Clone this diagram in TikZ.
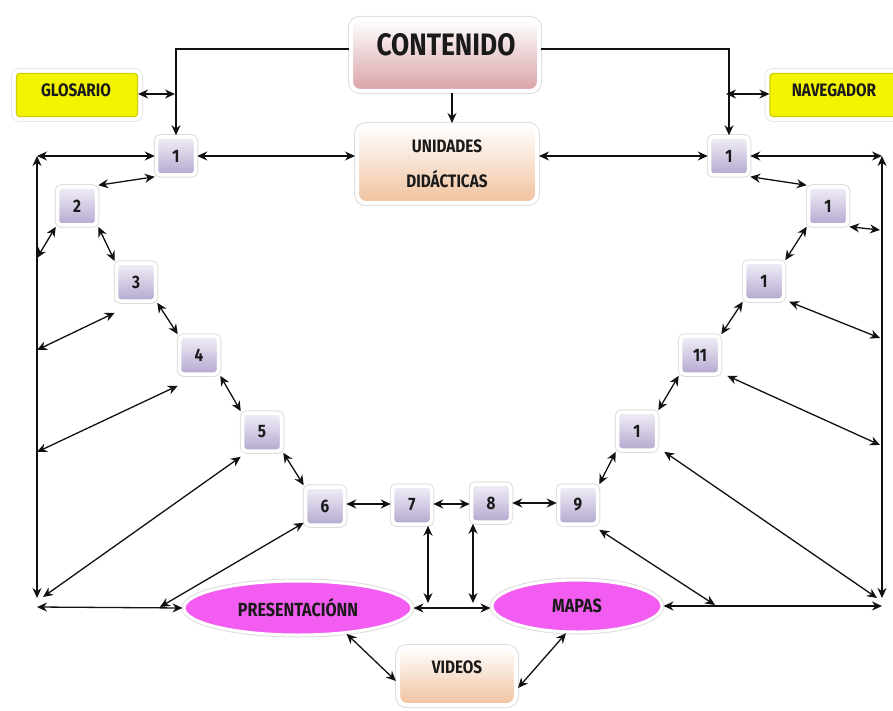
\documentclass[tikz,border=0pt]{standalone}
\usepackage{fontspec}
\newfontfamily\cf[FakeStretch=0.85]{Fira Sans}
\usetikzlibrary{arrows.meta,shadows,shapes.geometric}
\definecolor{txt}{HTML}{1A1A1A}
\definecolor{lavtop}{HTML}{F2EFF7}
\definecolor{lavbot}{HTML}{B4A8D0}
\definecolor{pinkbot}{HTML}{D8A2A6}
\definecolor{peachbot}{HTML}{F0C29E}
\definecolor{yel}{HTML}{F4F400}
\definecolor{yeldark}{HTML}{CFCF00}
\definecolor{mag}{HTML}{F25CF0}
\definecolor{line}{HTML}{111111}
\definecolor{rim}{HTML}{DDDDDD}
\definecolor{rimlight}{HTML}{E8E8E8}
\begin{document}
\begin{tikzpicture}[x=1pt,y=-1pt,
  glow/.style={preaction={draw=rim,line width=#1}},
  sq/.style={rectangle,rounded corners=4pt,minimum width=39pt,minimum height=38pt,inner sep=0pt,
    draw=white,line width=3.5pt,top color=lavtop,bottom color=lavbot,glow=5.5pt,
    font=\cf\bfseries\fontsize{18}{18}\selectfont,text=txt},
  bigbox/.style={rectangle,rounded corners=9pt,inner sep=0pt,draw=white,line width=4pt,glow=6pt,text=txt},
  yelbox/.style={rectangle,rounded corners=3pt,inner sep=0pt,fill=yel,draw=yeldark,line width=1.2pt,
    preaction={draw=rimlight,line width=11pt},preaction={draw=white,line width=9pt},
    text=txt,font=\cf\bfseries\fontsize{18}{18}\selectfont},
  oval/.style={ellipse,inner sep=0pt,fill=mag,draw=white,line width=3pt,glow=5pt,text=txt,
    font=\cf\bfseries\fontsize{19}{19}\selectfont},
  ar/.style={{Stealth[length=10pt,width=9pt]}-{Stealth[length=10pt,width=9pt]},line width=1.3pt,draw=line},
  ra/.style={-{Stealth[length=10pt,width=9pt]},line width=1.3pt,draw=line}]
\useasboundingbox (0,0) rectangle (893,711);

% main boxes
\node[bigbox,minimum width=188pt,minimum height=72pt,top color=white,bottom color=pinkbot] (CON) at (445,55) {};
\node[text=txt,font=\cf\bfseries\fontsize{31}{31}\selectfont] (tCON) at (446,45) {CONTENIDO};
\node[bigbox,minimum width=180pt,minimum height=78pt,top color=white,bottom color=peachbot,
  align=center,font=\cf\bfseries\fontsize{18}{35}\selectfont] (UNI) at (447,164) {UNIDADES\\DIDÁCTICAS};
\node[bigbox,minimum width=118pt,minimum height=58pt,top color=white,bottom color=peachbot] (VID) at (457,676) {};
\node[text=txt,font=\cf\bfseries\fontsize{18}{18}\selectfont] (tVID) at (457,667) {VIDEOS};

% yellow boxes
\node[yelbox,minimum width=121pt,minimum height=43pt] (GLO) at (77,95) {};
\node[text=txt,font=\cf\bfseries\fontsize{18}{18}\selectfont] (tGLO) at (76,90) {GLOSARIO};
\node[yelbox,minimum width=126pt,minimum height=43pt] (NAV) at (833,95) {};
\node[text=txt,font=\cf\bfseries\fontsize{18}{18}\selectfont] (tNAV) at (834,90) {NAVEGADOR};

% ellipses
\node[oval,minimum width=228pt,minimum height=54pt] (PRE) at (298,608) {PRESENTACIÓNN};
\node[oval,minimum width=170pt,minimum height=52pt] (MAP) at (577,606) {MAPAS};

% squares
\node[sq] (L1) at (176,156) {1};
\node[sq] (L2) at (77,206) {2};
\node[sq] (L3) at (136,282) {3};
\node[sq] (L4) at (199,355) {4};
\node[sq] (L5) at (262,432) {5};
\node[sq] (N6) at (325,506) {6};
\node[sq] (N7) at (412,505) {7};
\node[sq] (N8) at (491,503) {8};
\node[sq] (N9) at (578,505) {9};
\node[sq] (R1a) at (637,431) {1};
\node[sq] (R11) at (700,355) {11};
\node[sq] (R1b) at (764,281) {1};
\node[sq] (R1c) at (828,206) {1};
\node[sq] (R1t) at (729,156) {1};

% bus coordinates
\coordinate (LT) at (37,156);
\coordinate (LB) at (37,598);
\coordinate (LBh) at (37,607);
\coordinate (RT) at (882,156);
\coordinate (RB) at (882,598);
\coordinate (RBh) at (882,606);
\coordinate (b2) at (37,258);
\coordinate (b3) at (37,350);
\coordinate (b4) at (37,452);
\coordinate (b5) at (43,597);
\coordinate (b6) at (160,607);
\coordinate (c7) at (428,603);
\coordinate (c8) at (473,603);
\coordinate (b9) at (715,605);
\coordinate (r1) at (880,230);
\coordinate (r2) at (880,338);
\coordinate (r3) at (880,445);
\coordinate (r4) at (877,598);
\coordinate (gj) at (175,94);
\coordinate (nj) at (726,94);

% top connections
\draw[ra] ([yshift=6pt]CON.west) -| (L1.north);
\draw[ra] ([yshift=6pt]CON.east) -| (R1t.north);
\draw[ra] ([xshift=5pt]UNI.north |- CON.south) -- ([xshift=5pt]UNI.north);
\draw[ar] (GLO.east |- gj) -- (gj);
\draw[ar] (NAV.west |- nj) -- (nj);
\draw[ar] (L1.east) -- (L1.east -| UNI.west);
\draw[ar] (R1t.west -| UNI.east) -- (R1t.west);

% buses
\draw[ar] (L1.west) -- (LT);
\draw[ar] (LT) -- (LB);
\draw[ar] (LBh) -- (PRE.west);
\draw[ar] (R1t.east) -- (RT);
\draw[ar] (RT) -- (RB);
\draw[ar] (MAP.east) -- (RBh);
\draw[ar] (PRE.east) -- (PRE.east -| MAP.west);

% left chain
\draw[ar] (L1.south west) -- (L2.north east);
\draw[ar] (L2.south west) -- (b2);
\draw[ar] (L2.south east) -- (L3.north west);
\draw[ar] ([yshift=-10pt]L3.south west) -- (b3);
\draw[ar] (L3.south east) -- (L4.north west);
\draw[ar] ([yshift=-10pt]L4.south west) -- (b4);
\draw[ar] (L4.south east) -- (L5.north west);
\draw[ar] ([yshift=-4pt]L5.south west) -- (b5);
\draw[ar] (L5.south east) -- (N6.north west);
\draw[ar] ([yshift=4pt]N6.south west) -- (b6);

% bottom row
\draw[ar] ([yshift=2pt]N6.east) -- ([yshift=2pt]N6.east -| N7.west);
\draw[ar] ([yshift=1pt]N7.east) -- ([yshift=1pt]N7.east -| N8.west);
\draw[ar] (N8.east) -- (N8.east -| N9.west);
\draw[ar] (N7.south -| c7) -- (c7);
\draw[ar] (N8.south -| c8) -- (c8);
\draw[ar] ([yshift=-4pt]N9.south east) -- (b9);

% right chain
\draw[ar] (R1t.south east) -- (R1c.north west);
\draw[ar] (R1c.south west) -- (R1b.north east);
\draw[ar] (R1b.south west) -- (R11.north east);
\draw[ar] (R11.south west) -- (R1a.north east);
\draw[ar] (R1a.south west) -- (N9.north east);
\draw[ar] (R1c.south east) -- (r1);
\draw[ar] ([xshift=4pt]R1b.south east) -- (r2);
\draw[ar] ([xshift=6pt]R11.south east) -- (r3);
\draw[ar] ([xshift=6pt]R1a.south east) -- (r4);

% videos
\draw[ar] (PRE.-28) -- ([yshift=-5pt]VID.west);
\draw[ar] (MAP.-112) -- ([yshift=-12pt]VID.east);
\end{tikzpicture}
\end{document}
